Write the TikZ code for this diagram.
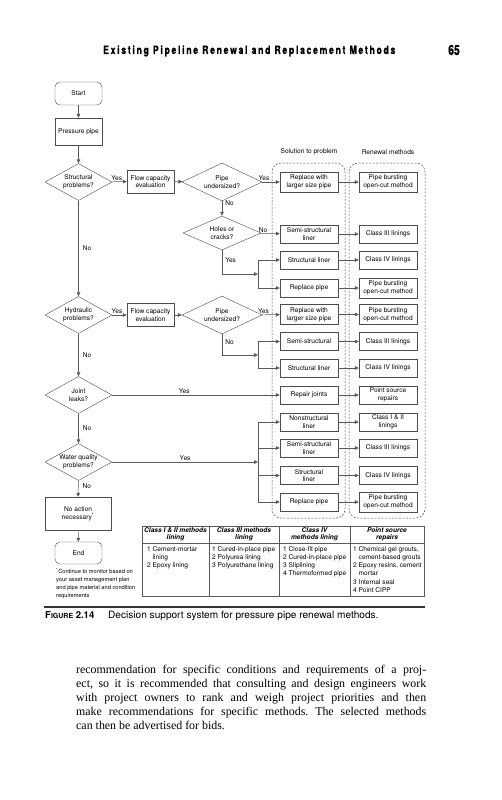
\documentclass[tikz,border=0pt]{standalone}
\usepackage{fontspec}
\setmainfont{Liberation Serif}
\setsansfont{TeX Gyre Heros}
\newfontfamily\runheadfont{TeX Gyre Heros}[FakeStretch=0.75,LetterSpace=15,BoldFeatures={FakeBold=0.7}]
\newfontfamily\pagenofont{TeX Gyre Heros}[FakeStretch=0.75,BoldFeatures={FakeBold=0.7}]
\usetikzlibrary{shapes.geometric,arrows.meta,positioning,calc}

\tikzset{
  chart/.style={font=\sffamily\fontsize{6.6}{7.7}\selectfont, align=center, inner sep=1pt},
  term/.style={chart, draw=black!70, rounded corners=5pt, minimum width=47pt, minimum height=23pt},
  procbox/.style={chart, draw=black!70, minimum width=47pt, minimum height=23pt},
  solbox/.style={chart, draw=black!70, minimum width=58pt, minimum height=18pt},
  renbox/.style={solbox, minimum width=58pt},
  decide/.style={chart, draw=black!70, diamond, aspect=1.8, inner sep=0pt, minimum width=67pt, minimum height=37pt},
  arr/.style={draw=black!65, line width=0.5pt, -{Triangle[length=4pt,width=3.6pt]}},
  wire/.style={draw=black!65, line width=0.5pt},
  lbl/.style={font=\sffamily\fontsize{6.6}{7.7}\selectfont, inner sep=1pt},
  dashcol/.style={draw=black!70, dash pattern=on 2pt off 1.5pt, rounded corners=9pt, line width=0.5pt},
  tabtext/.style={font=\sffamily\fontsize{6.6}{8.3}\selectfont, inner sep=0pt, anchor=north west, align=left},
  tabhead/.style={font=\sffamily\bfseries\itshape\fontsize{6.6}{7.3}\selectfont, inner sep=0pt, align=center},
}

\begin{document}
\begin{tikzpicture}[x=1pt,y=-1pt]
    \fill[white] (0,0) rectangle (501,800);
    \useasboundingbox (0,0) rectangle (501,800);

    % running head
    \node[anchor=base west, inner sep=0] (runhead) at (103,54) {\runheadfont\bfseries\fontsize{11.5}{13}\selectfont Existing Pipeline Renewal and Replacement Methods};
    \node[anchor=base west, inner sep=0] (pageno) at (448,55) {\pagenofont\bfseries\fontsize{14}{16}\selectfont 65};

    % column frames
    \draw[dashcol] (272,163) rectangle (345,518);
    \draw[dashcol] (349,163) rectangle (425,518);
    \node[lbl] (solhead) at (309,152) {Solution to problem};
    \node[lbl] (renhead) at (388,152) {Renewal methods};

    % main questions
    \node[term] (start) at (78.5,93.5) {Start};
    \node[procbox, minimum height=27pt] (pressure) at (78.5,131.5) {Pressure pipe};
    \node[decide] (struct) at (78.5,182) {Structural\\problems?};
    \node[decide] (hydr) at (78.5,315) {Hydraulic\\problems?};
    \node[decide] (joint) at (78.5,395) {Joint\\leaks?};
    \node[decide] (water) at (78.5,462) {Water quality\\problems?};
    \node[procbox, minimum width=66pt, minimum height=33pt] (noaction) at (78,513.5) {No action\\necessary\textsuperscript{*}};
    \node[term, minimum height=22pt] (end) at (78.5,553) {End};
    \node[tabtext, font=\sffamily\fontsize{5.7}{8}\selectfont] (note) at (56,568) {\textsuperscript{*}Continue to monitor based on\\ your asset management plan\\ and pipe material and condition\\ requirements};

    % flow capacity branches
    \node[procbox] (flowa) at (150.5,181.5) {Flow capacity\\evaluation};
    \node[decide, minimum width=80pt, minimum height=38pt] (undera) at (222,182) {Pipe\\undersized?};
    \node[decide, minimum width=78pt, minimum height=34pt] (holes) at (222,233) {Holes or\\cracks?};
    \node[procbox] (flowb) at (150.5,315) {Flow capacity\\evaluation};
    \node[decide, minimum width=80pt, minimum height=38pt] (underb) at (222,315) {Pipe\\undersized?};

    % solution to problem
    \node[solbox, minimum height=20pt] (sola) at (309,182) {Replace with\\larger size pipe};
    \node[solbox] (solb) at (309,234) {Semi-structural\\liner};
    \node[solbox] (solc) at (309,260) {Structural liner};
    \node[solbox] (sold) at (309,288) {Replace pipe};
    \node[solbox, minimum height=20pt] (sole) at (309,314.5) {Replace with\\larger size pipe};
    \node[solbox] (solf) at (309,341.5) {Semi-structural};
    \node[solbox] (solg) at (309,368) {Structural liner};
    \node[solbox] (solh) at (309,395) {Repair joints};
    \node[solbox] (soli) at (309,422) {Nonstructural\\liner};
    \node[solbox] (solj) at (309,448) {Semi-structural\\liner};
    \node[solbox] (solk) at (309,475.5) {Structural\\liner};
    \node[solbox] (soll) at (309,502) {Replace pipe};

    % renewal methods
    \node[renbox, minimum height=20pt] (rena) at (388,182) {Pipe bursting\\open-cut method};
    \node[renbox] (renb) at (388,234) {Class III linings};
    \node[renbox] (renc) at (388,260) {Class IV linings};
    \node[renbox, minimum height=20pt] (rend) at (388,288) {Pipe bursting\\open-cut method};
    \node[renbox, minimum height=20pt] (rene) at (388,314.5) {Pipe bursting\\open-cut method};
    \node[renbox] (renf) at (388,341.5) {Class III linings};
    \node[renbox] (reng) at (388,368) {Class IV linings};
    \node[renbox] (renh) at (388,395) {Point source\\repairs};
    \node[renbox] (reni) at (388,422) {Class I \& II\\linings};
    \node[renbox] (renj) at (388,448) {Class III linings};
    \node[renbox] (renk) at (388,475.5) {Class IV linings};
    \node[renbox, minimum height=20pt] (renl) at (388,502) {Pipe bursting\\open-cut method};

    % junctions
    \coordinate (hjoin) at (258,274);
    \coordinate (ujoin) at (258,355);
    \coordinate (wjoin) at (258,462);

    % left column connectors
    \draw[arr] (start) -- (pressure);
    \draw[arr] (pressure) -- (struct);
    \draw[arr] (struct) -- node[lbl, right=3pt]{No} (hydr);
    \draw[arr] (hydr) -- node[lbl, right=3pt]{No} (joint);
    \draw[arr] (joint) -- node[lbl, right=3pt]{No} (water);
    \draw[arr] (water) -- node[lbl, right=3pt, pos=0.35]{No} (noaction);
    \draw[arr] (noaction) -- (end);

    % structural
    \draw[arr] (struct) -- node[lbl, above, pos=0.33]{Yes} (flowa);
    \draw[arr] (flowa) -- (undera);
    \draw[arr] (undera) -- node[lbl, above, pos=0.1]{Yes} (sola);
    \draw[arr] (undera) -- node[lbl, right=2pt, pos=0.15]{No} (holes);
    \draw[arr] (holes) -- node[lbl, above, pos=0.15]{No} (solb);
    \draw[arr] (holes.south) |- node[lbl, right=2pt, pos=0.2]{Yes} (hjoin);
    \draw[wire] (hjoin |- solc) -- (hjoin |- sold);
    \draw[arr] (hjoin |- solc) -- (solc);
    \draw[arr] (hjoin |- sold) -- (sold);

    % hydraulic
    \draw[arr] (hydr) -- node[lbl, above, pos=0.33]{Yes} (flowb);
    \draw[arr] (flowb) -- (underb);
    \draw[arr] (underb) -- node[lbl, above, pos=0.1]{Yes} (sole);
    \draw[arr] (underb.south) |- node[lbl, right=2pt, pos=0.19]{No} (ujoin);
    \draw[wire] (ujoin |- solf) -- (ujoin |- solg);
    \draw[arr] (ujoin |- solf) -- (solf);
    \draw[arr] (ujoin |- solg) -- (solg);

    % joints and water quality
    \draw[arr] (joint) -- node[lbl, above, pos=0.43]{Yes} (solh);
    \draw[arr] (water) -- node[lbl, above]{Yes} (wjoin);
    \draw[wire] (wjoin |- soli) -- (wjoin |- soll);
    \draw[arr] (wjoin |- soli) -- (soli);
    \draw[arr] (wjoin |- solj) -- (solj);
    \draw[arr] (wjoin |- solk) -- (solk);
    \draw[arr] (wjoin |- soll) -- (soll);

    % solution to renewal
    \draw[arr] (sola) -- (rena);
    \draw[arr] (solb) -- (renb);
    \draw[arr] (solc) -- (renc);
    \draw[arr] (sold) -- (rend);
    \draw[arr] (sole) -- (rene);
    \draw[arr] (solf) -- (renf);
    \draw[arr] (solg) -- (reng);
    \draw[arr] (solh) -- (renh);
    \draw[arr] (soli) -- (reni);
    \draw[arr] (solj) -- (renj);
    \draw[arr] (solk) -- (renk);
    \draw[arr] (soll) -- (renl);

    % methods table
    \draw[black!65, line width=0.6pt] (142,526) rectangle (424,596);
    \draw[black!65, line width=0.5pt] (142,543) -- (424,543);
    \draw[black!65, line width=0.5pt] (209,526) -- (209,596);
    \draw[black!65, line width=0.5pt] (279,526) -- (279,596);
    \draw[black!65, line width=0.5pt] (350,526) -- (350,596);
    \node[tabhead] (heada) at (175.5,534.5) {Class I \& II methods\\lining};
    \node[tabhead] (headb) at (244,534.5) {Class III methods\\lining};
    \node[tabhead] (headc) at (314.5,534.5) {Class IV\\methods lining};
    \node[tabhead] (headd) at (387,534.5) {Point source\\repairs};
    \node[tabtext] (lista) at (147,545) {\begin{tabular}{@{}l@{\ }l@{}}1 & Cement-mortar\\ & lining\\ 2 & Epoxy lining\end{tabular}};
    \node[tabtext] (listb) at (212,545) {\begin{tabular}{@{}l@{\ }l@{}}1 & Cured-in-place pipe\\ 2 & Polyurea lining\\ 3 & Polyurethane lining\end{tabular}};
    \node[tabtext] (listc) at (283,545) {\begin{tabular}{@{}l@{\ }l@{}}1 & Close-fit pipe\\ 2 & Cured-in-place pipe\\ 3 & Sliplining\\ 4 & Thermoformed pipe\end{tabular}};
    \node[tabtext] (listd) at (353,545) {\begin{tabular}{@{}l@{\ }l@{}}1 & Chemical gel grouts,\\ & cement-based grouts\\ 2 & Epoxy resins, cement\\ & mortar\\ 3 & Internal seal\\ 4 & Point CIPP\end{tabular}};

    % caption
    \draw[black!80, line width=1.5pt] (44,607) -- (425,607);
    \node[anchor=base west, inner sep=0] (figlabel) at (45,618) {\sffamily\bfseries\fontsize{9.5}{11}\selectfont F{\fontsize{7}{8}\selectfont IGURE} 2.14};
    \node[anchor=base west, inner sep=0] (figtext) at (108,618) {\sffamily\fontsize{10.1}{12}\selectfont Decision support system for pressure pipe renewal methods.};

    % running text
    \node[anchor=base west, inner sep=0] (bodytext) at (76,673) {\parbox[t]{350pt}{\fontsize{11.9}{14.1}\selectfont\frenchspacing\hyphenpenalty=10000
      recommendation for specific conditions and requirements of a proj-\linebreak
      ect, so it is recommended that consulting and design engineers work\linebreak
      with project owners to rank and weigh project priorities and then\linebreak
      make recommendations for specific methods. The selected methods\linebreak
      can then be advertised for bids.}};
\end{tikzpicture}
\end{document}
